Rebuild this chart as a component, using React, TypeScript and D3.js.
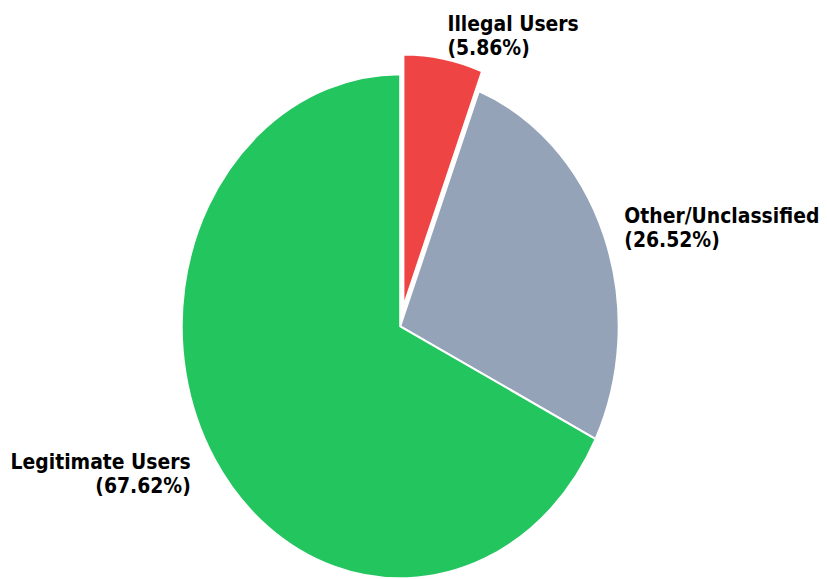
import React from "react";
import * as d3 from "d3";

const categories = ["Illegal Users", "Other/Unclassified", "Legitimate Users"];
const values = [5.86, 26.52, 67.62];
const explodeAmounts = [0.08, 0, 0];
const colors = ["#ef4444", "#94a3b8", "#22c55e"];

const W = 827;
const H = 579;
const cx = 400.2;
const cy = 326.3;
const rx = 218.5;
const ry = 252;
const sy = ry / rx;
const fontSize = 18.8;
const labelDistance = 1.1;

export default function App() {
  const pie = d3
    .pie<number>()
    .sort(null)
    .value((d) => d)
    .startAngle(0)
    .endAngle(2 * Math.PI);
  const arcs = pie(values);
  const arcGen = d3.arc<d3.PieArcDatum<number>>().innerRadius(0).outerRadius(rx);

  return (
    <svg
      width={W}
      height={H}
      style={{ position: "absolute", left: 0, top: 0, background: "#fff" }}
    >
      <g transform={`translate(${cx},${cy}) scale(1,${sy})`}>
        {arcs.map((a, i) => {
          const mid = (a.startAngle + a.endAngle) / 2;
          const off = explodeAmounts[i] * rx;
          const dx = off * Math.sin(mid);
          const dy = -off * Math.cos(mid);
          return (
            <path
              key={categories[i]}
              d={arcGen(a) || ""}
              transform={`translate(${dx},${dy})`}
              fill={colors[i]}
              stroke="#ffffff"
              strokeWidth={2}
              vectorEffect="non-scaling-stroke"
              strokeLinejoin="round"
            />
          );
        })}
      </g>
      {arcs.map((a, i) => {
        const mid = (a.startAngle + a.endAngle) / 2;
        const R = (labelDistance + explodeAmounts[i]) * rx;
        const right = Math.sin(mid) > 0;
        const x = cx + R * Math.sin(mid) + (right ? 0 : -5);
        const y = cy - R * Math.cos(mid) * sy;
        const anchor = right ? "start" : "end";
        const pct = `(${((values[i] / d3.sum(values)) * 100).toFixed(2)}%)`;
        return (
          <text
            key={"l" + categories[i]}
            transform={`translate(${x},${y}) scale(1,${sy})`}
            textAnchor={anchor}
            fontFamily="DejaVu Sans"
            fontWeight="bold"
            fontSize={fontSize}
            fill="#000"
          >
            <tspan x={0} y={-3 / sy}>
              {categories[i]}
            </tspan>
            <tspan x={0} y={21.2 / sy}>
              {pct}
            </tspan>
          </text>
        );
      })}
    </svg>
  );
}
